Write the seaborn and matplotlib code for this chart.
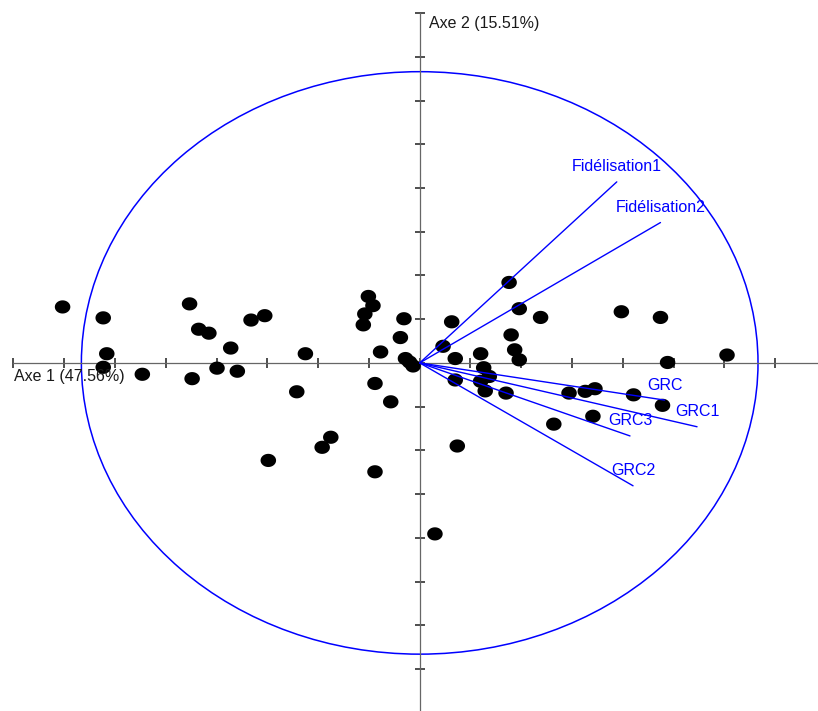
import numpy as np
import pandas as pd
import matplotlib
matplotlib.use('Agg')
import matplotlib.pyplot as plt
from matplotlib.patches import Circle
import seaborn as sns

# individus (coordonnees en graduations)
ind_x = [-7.03, -6.23, -6.16, -6.23, -5.46, -4.53, -4.35, -4.15, -4.48, -3.72,
         -3.99, -3.59, -3.32, -3.05, -2.25, -2.42, -1.75, -1.92, -2.98, -0.88,
         -1.01, -0.92, -1.08, -1.11, -0.31, -0.38, -0.77, -0.88, -0.57, -0.28,
         -0.20, -0.13, 0.30, 0.74, 0.46, 0.63, 0.70, 0.70, 1.20, 1.76,
         1.96, 2.38, 1.80, 1.87, 1.96, 1.26, 1.37, 1.20, 1.29, 1.70,
         2.94, 3.26, 3.45, 4.21, 4.78, 3.41, 2.64, 3.97, 4.74, 6.05, 4.88]
ind_y = [1.28, 1.03, 0.21, -0.10, -0.26, 1.35, 0.77, 0.68, -0.36, 0.34,
         -0.12, -0.19, 0.98, 1.08, 0.21, -0.66, -1.70, -1.93, -2.23, -2.49,
         1.52, 1.31, 1.12, 0.87, 1.01, 0.58, 0.25, -0.47, -0.89, 0.10,
         0.02, -0.07, -3.91, -1.90, 0.38, 0.94, 0.10, -0.39, 0.21, 1.84,
         1.24, 1.04, 0.64, 0.30, 0.07, -0.11, -0.31, -0.42, -0.64, -0.69,
         -0.69, -0.65, -0.59, -0.73, -0.97, -1.22, -1.40, 1.17, 1.04, 0.18, 0.01]

# variables
var_noms = ['Fidélisation1', 'Fidélisation2', 'GRC', 'GRC1', 'GRC3', 'GRC2']
var_x = [3.88, 4.74, 4.82, 5.46, 4.14, 4.20]
var_y = [4.14, 3.21, -0.85, -1.46, -1.67, -2.81]

rayon = 6.66
titre_axe1 = 'Axe 1 (47.56%)'
titre_axe2 = 'Axe 2 (15.51%)'

df = pd.DataFrame({'x': ind_x, 'y': ind_y})

sns.set_style('white')
plt.rcParams['font.family'] = ['Liberation Sans', 'DejaVu Sans']

fig = plt.figure(figsize=(8.18, 7.11), dpi=100)
ax = fig.add_axes([0, 0, 1, 1])
ax.set_xlim(-8.262, 7.841)
ax.set_ylim(-7.960, 8.299)

# axes passant par l'origine
for s in ['top', 'right']:
    ax.spines[s].set_visible(False)
ax.spines['left'].set_position(('data', 0))
ax.spines['bottom'].set_position(('data', 0))
ax.spines['bottom'].set_bounds(-8, 7.841)
ax.spines['left'].set_bounds(-7.960, 8)
for s in ['left', 'bottom']:
    ax.spines[s].set_color('#666666')
    ax.spines[s].set_linewidth(0.9)
ax.set_xticks(range(-8, 8))
ax.set_yticks(range(-7, 9))
ax.tick_params(bottom=True, left=True, direction='inout', length=7.5, width=1.1,
               color='#1e1e1e', labelbottom=False, labelleft=False)

# cercle des correlations
ax.add_patch(Circle((0, 0), rayon, fill=False, color='blue', lw=1.1, zorder=2))

# points en forme d'ellipse
t = np.linspace(0, 2 * np.pi, 50)
ellipse = np.column_stack([np.cos(t), 0.85 * np.sin(t)])
sns.scatterplot(data=df, x='x', y='y', ax=ax, marker=ellipse, s=125,
                color='black', edgecolor='none', linewidth=0, zorder=3)
ax.set_xlabel('')
ax.set_ylabel('')

for nom, vx, vy in zip(var_noms, var_x, var_y):
    ax.plot([0, vx], [0, vy], color='blue', lw=1.0, zorder=4)
    ax.annotate(nom, (vx, vy), xytext=(0, 15), textcoords='offset pixels',
                ha='center', va='center', color='blue', fontsize=11.5, zorder=5)

ax.text(-7.99, -0.32, titre_axe1, ha='left', va='center', fontsize=11.5, color='#1a1a1a')
ax.text(0.18, 7.77, titre_axe2, ha='left', va='center', fontsize=11.5, color='#1a1a1a')

fig.savefig('out.png', dpi=100)
